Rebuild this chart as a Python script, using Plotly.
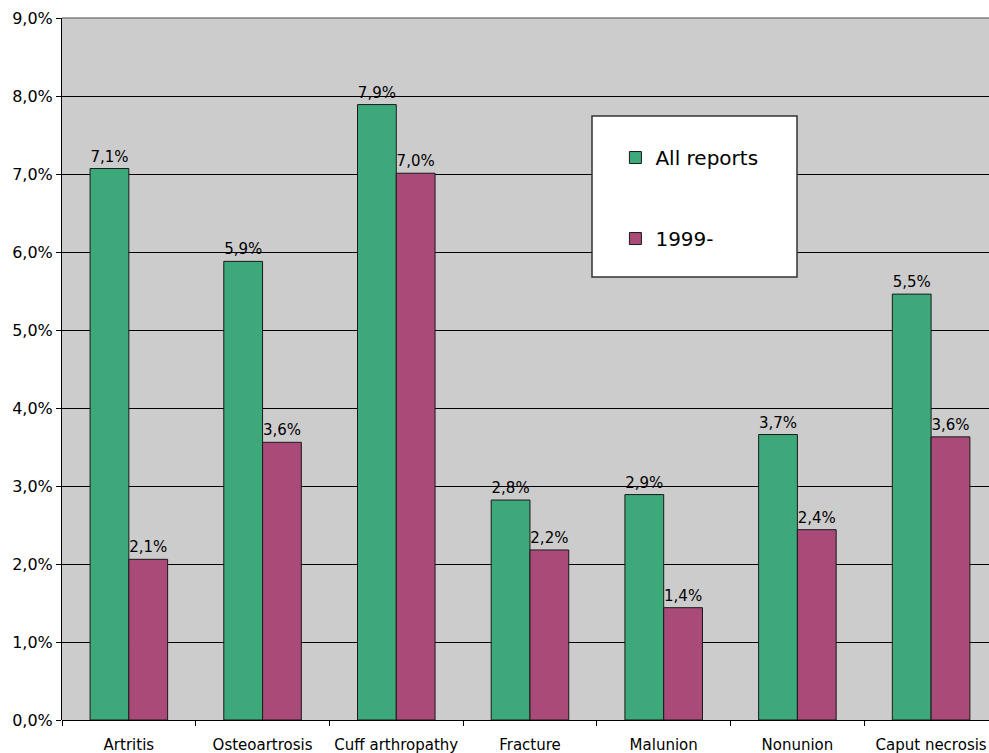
import plotly.graph_objects as go

categories = ["Artritis", "Osteoartrosis", "Cuff arthropathy", "Fracture", "Malunion", "Nonunion", "Caput necrosis"]
all_reports = [0.0707, 0.0588, 0.0789, 0.0282, 0.0289, 0.0366, 0.0546]
since_1999 = [0.0206, 0.0356, 0.0701, 0.0218, 0.0144, 0.0244, 0.0363]
series_names = ["All reports", "1999-"]
y_ticks = [i / 100 for i in range(0, 10)]

FONT = "DejaVu Sans"
green = "#3DA97B"
magenta = "#A94A78"

fig = go.Figure()
fig.add_trace(go.Bar(
    x=categories, y=all_reports, name=series_names[0],
    marker=dict(color=green, line=dict(color="#1a1a1a", width=1)),
    texttemplate="%{y:.1%}", textposition="outside", cliponaxis=False,
    constraintext="none",
    textfont=dict(family=FONT, size=15, color="black"),
    legendgroup="a",
))
fig.add_trace(go.Bar(
    x=categories, y=since_1999, name=series_names[1],
    marker=dict(color=magenta, line=dict(color="#1a1a1a", width=1)),
    texttemplate="%{y:.1%}", textposition="outside", cliponaxis=False,
    constraintext="none",
    textfont=dict(family=FONT, size=15, color="black"),
    legendgroup="b",
))

fig.update_layout(
    width=989, height=753,
    margin=dict(l=62, r=0, t=18, b=33),
    paper_bgcolor="white",
    plot_bgcolor="#CCCCCC",
    separators=",.",
    barmode="group",
    bargap=0.42,
    bargroupgap=0,
    font=dict(family=FONT, size=14, color="black"),
    showlegend=True,
    legend=dict(
        x=0.597, y=0.829, xanchor="left", yanchor="top",
        bgcolor="rgba(0,0,0,0)",
        font=dict(family=FONT, size=20, color="black"),
        traceorder="grouped", tracegroupgap=52,
    ),
    shapes=[
        dict(
            type="rect", xref="paper", yref="paper",
            x0=(592 - 62) / 927, x1=(797 - 62) / 927,
            y0=(720 - 277) / 702, y1=(720 - 116) / 702,
            fillcolor="white", line=dict(color="#333333", width=1.5),
            layer="above",
        ),
        dict(
            type="line", xref="paper", yref="paper",
            x0=0, x1=1, y0=1, y1=1,
            line=dict(color="#808080", width=1.5),
        ),
    ],
)

fig.update_xaxes(
    type="category",
    range=[-0.5, 6.433],
    tickson="boundaries",
    ticks="outside", ticklen=5, tickcolor="black",
    ticklabelstandoff=14,
    showline=False,
    showgrid=False,
    tickfont=dict(family=FONT, size=15, color="black"),
)
fig.update_yaxes(
    range=[0, 0.09],
    tickvals=y_ticks,
    tickformat=".1%",
    ticks="outside", ticklen=5, tickcolor="black",
    showline=True, linecolor="black", linewidth=1,
    showgrid=True, gridcolor="black", gridwidth=1,
    zeroline=True, zerolinecolor="black", zerolinewidth=1,
    tickfont=dict(family=FONT, size=16, color="black"),
)

fig.write_html("out.html")
